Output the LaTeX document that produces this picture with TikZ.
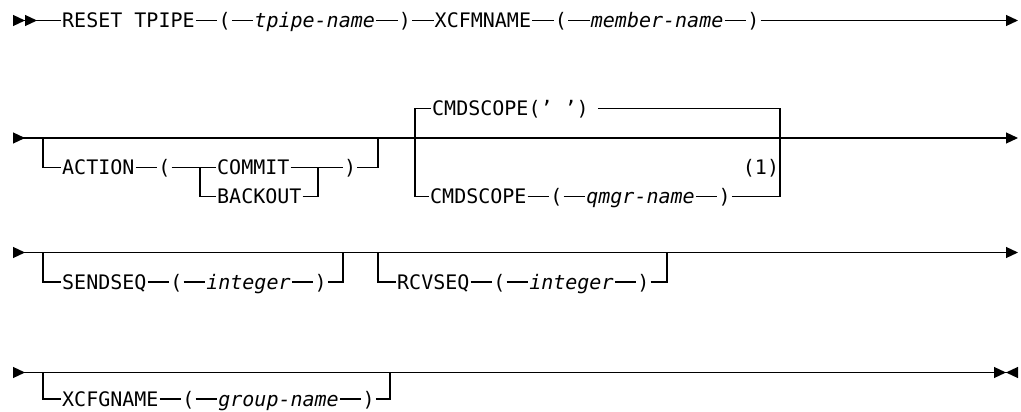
\documentclass[tikz,border=0pt]{standalone}
\usepackage{fontspec}
\setmonofont{DejaVu Sans Mono}
\usetikzlibrary{arrows.meta, positioning}

\begin{document}
\begin{tikzpicture}[
        x=1pt, y=-1pt,
        node distance=21.5pt,
        kw/.style={font=\ttfamily\fontsize{20}{20}\selectfont, inner xsep=1pt, inner ysep=0pt, text height=14.6pt, text depth=0pt, anchor=west},
        var/.style={kw, font=\ttfamily\itshape\fontsize{20}{20}\selectfont},
        rail/.style={line width=1.2pt},
        railtip/.tip={Triangle[length=12pt, width=11pt]},
        railtipr/.tip={Triangle[length=12pt, width=11pt, reversed]}
    ]
        \useasboundingbox (0,0) rectangle (1021,412);

        \coordinate (b1) at (13,20.5);
        \coordinate (e1) at (1018,20.5);
        \node[kw] (reset) at (61,20.5) {RESET TPIPE};
        \node[kw, right=of reset] (lpa) {(};
        \node[var, right=of lpa] (tpipe) {tpipe-name};
        \node[kw, right=of tpipe] (rpa) {)};
        \node[kw, right=of rpa] (xcfm) {XCFMNAME};
        \node[kw, right=of xcfm] (lpb) {(};
        \node[var, right=of lpb] (member) {member-name};
        \node[kw, right=of member] (rpb) {)};

        \draw[rail, {railtipr[]railtipr[]}-] (b1) -- (reset);
        \draw[rail] (reset) -- (lpa) -- (tpipe) -- (rpa) -- (xcfm) -- (lpb) -- (member) -- (rpb);
        \draw[rail, -railtip] (rpb) -- (e1);

        \coordinate (b2) at (13,138);
        \coordinate (e2) at (1018,138);
        \coordinate (actl) at (43,138);
        \coordinate (actr) at (378,138);
        \coordinate (chl) at (200,167.5);
        \coordinate (chr) at (318,167.5);
        \coordinate (cml) at (415,138);
        \coordinate (cmr) at (780,138);
        \node[kw] (action) at (61,167.5) {ACTION};
        \node[kw, right=of action] (lpc) {(};
        \node[kw] (commit) at (216,167.5) {COMMIT};
        \node[kw] (backout) at (216,196.5) {BACKOUT};
        \node[kw] (rpc) at (343,167.5) {)};
        \node[kw] (cmddef) at (431,108.5) {CMDSCOPE(’ ’)};
        \node[kw] (cmdscope) at (429,196.5) {CMDSCOPE};
        \node[kw, right=of cmdscope] (lpd) {(};
        \node[var, right=of lpd] (qmgr) {qmgr-name};
        \node[kw, right=of qmgr] (rpd) {)};
        \node[kw, anchor=center] (note) at (761,167.5) {(1)};

        \draw[rail, railtipr-railtip] (b2) -- (e2);
        \draw[rail] (actl) |- (action) -- (lpc) -- (chl) -- (commit);
        \draw[rail] (chl) |- (backout);
        \draw[rail] (commit) -- (chr) -- (rpc);
        \draw[rail] (backout) -| (chr);
        \draw[rail] (rpc) -| (actr);
        \draw[rail] (cml) |- (cmddef);
        \draw[rail, shorten <=8pt] (cmddef) -| (cmr);
        \draw[rail] (cml) |- (cmdscope) -- (lpd) -- (qmgr) -- (rpd);
        \draw[rail] (rpd) -| (cmr);

        \coordinate (b3) at (13,252.5);
        \coordinate (e3) at (1018,252.5);
        \coordinate (sdl) at (43,252.5);
        \coordinate (sdr) at (343,252.5);
        \coordinate (rcl) at (378,252.5);
        \coordinate (rcr) at (667,252.5);
        \node[kw] (sendseq) at (61,282) {SENDSEQ};
        \node[kw, right=of sendseq] (lpe) {(};
        \node[var, right=of lpe] (sint) {integer};
        \node[kw, right=of sint] (rpe) {)};
        \node[kw] (rcvseq) at (396,282) {RCVSEQ};
        \node[kw, right=of rcvseq] (lpf) {(};
        \node[var, right=of lpf] (rint) {integer};
        \node[kw, right=of rint] (rpf) {)};

        \draw[rail, railtipr-railtip] (b3) -- (e3);
        \draw[rail] (sdl) |- (sendseq) -- (lpe) -- (sint) -- (rpe);
        \draw[rail] (rpe) -| (sdr);
        \draw[rail] (rcl) |- (rcvseq) -- (lpf) -- (rint) -- (rpf);
        \draw[rail] (rpf) -| (rcr);

        \coordinate (b4) at (13,372.5);
        \coordinate (e4) at (1018,372.5);
        \coordinate (xgl) at (43,372.5);
        \coordinate (xgr) at (390,372.5);
        \node[kw] (xcfg) at (61,399) {XCFGNAME};
        \node[kw, right=of xcfg] (lpg) {(};
        \node[var, right=of lpg] (group) {group-name};
        \node[kw, right=of group] (rpg) {)};

        \draw[rail, railtipr-{railtip[]railtipr[]}] (b4) -- (e4);
        \draw[rail] (xgl) |- (xcfg) -- (lpg) -- (group) -- (rpg);
        \draw[rail] (rpg) -| (xgr);
    \end{tikzpicture}
\end{document}
